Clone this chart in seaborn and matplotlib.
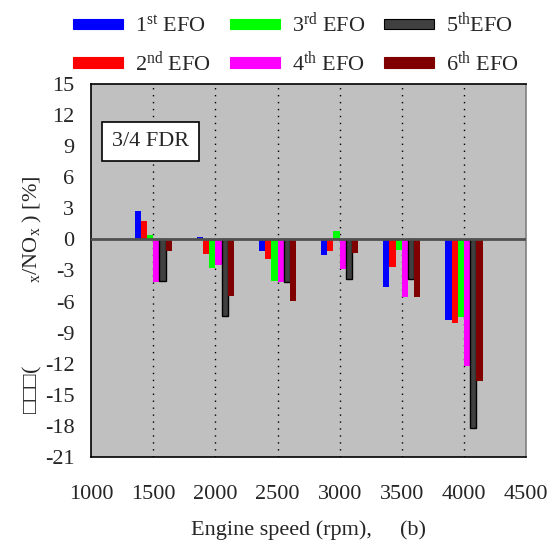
import matplotlib
matplotlib.use("Agg")
import matplotlib.pyplot as plt
import seaborn as sns
import pandas as pd
import numpy as np
from matplotlib.patches import Patch

speeds = [1500, 2000, 2500, 3000, 3500, 4000]
series = ["1st", "2nd", "3rd", "4th", "5th", "6th"]
efo1 = [2.7, 0.25, -1.1, -1.5, -4.6, -7.8]
efo2 = [1.8, -1.45, -1.9, -1.1, -2.7, -8.1]
efo3 = [0.4, -2.8, -4.0, 0.8, -1.0, -7.45]
efo4 = [-4.1, -2.5, -4.15, -2.85, -5.6, -12.2]
efo5 = [-4.05, -7.4, -4.1, -3.8, -3.8, -18.2]
efo6 = [-1.1, -5.5, -5.9, -1.35, -5.6, -13.7]
legend_labels = ["1$^{\\mathrm{st}}$ EFO", "2$^{\\mathrm{nd}}$ EFO", "3$^{\\mathrm{rd}}$ EFO",
                 "4$^{\\mathrm{th}}$ EFO", "5$^{\\mathrm{th}}$EFO", "6$^{\\mathrm{th}}$ EFO"]
colors = ["#0000FF", "#FF0000", "#00FF00", "#FF00FF", "#404040", "#800000"]
yticks = list(range(-21, 16, 3))
xticks = [1000, 1500, 2000, 2500, 3000, 3500, 4000, 4500]

rows = []
for s, vals in zip(series, [efo1, efo2, efo3, efo4, efo5, efo6]):
    for sp, v in zip(speeds, vals):
        rows.append({"speed": sp, "series": s, "value": v})
df = pd.DataFrame(rows)

sns.set_style("white")
plt.rcParams["font.family"] = ["Liberation Serif", "DejaVu Serif"]
plt.rcParams["mathtext.fontset"] = "custom"
plt.rcParams["mathtext.rm"] = "Liberation Serif"
plt.rcParams["mathtext.it"] = "Liberation Serif:italic"

fig = plt.figure(figsize=(5.55, 5.51), dpi=100)
ax = fig.add_axes([0.164, 0.1706, 0.784, 0.677])
ax.set_facecolor("#C0C0C0")

sns.barplot(data=df, x="speed", y="value", hue="series", native_scale=True,
            palette=colors, width=0.6, dodge=True, ax=ax, legend=False,
            errorbar=None, saturation=1, zorder=3)

for patch in ax.patches:
    fc = patch.get_facecolor()
    if abs(fc[0] - 0x40/255) < 0.02 and abs(fc[1] - 0x40/255) < 0.02:
        patch.set_edgecolor("black")
        patch.set_linewidth(1.0)
    else:
        patch.set_linewidth(0)

ax.set_xlim(1000, 4500)
ax.set_ylim(-21, 15)
ax.set_xticks(xticks)
ax.set_xticklabels([str(t) for t in xticks])
ax.set_yticks(yticks)
ax.set_yticklabels([str(t) for t in yticks])
ax.tick_params(axis="both", labelsize=16, direction="out", length=5, width=1, color="#333333")
ax.tick_params(axis="x", pad=15)
ax.tick_params(axis="y", pad=7)
for t in [1500, 2000, 2500, 3000, 3500, 4000]:
    ax.axvline(t, color="black", linestyle=(0, (1, 4)), linewidth=1, zorder=1)
ax.axhline(0, color="#505050", linewidth=2, zorder=4)

for side in ["left", "bottom", "top"]:
    ax.spines[side].set_color("black")
    ax.spines[side].set_linewidth(1.2)
ax.spines["right"].set_color("#808080")
ax.spines["right"].set_linewidth(1.2)

ax.set_xlabel("Engine speed (rpm),     (b)", fontsize=16, labelpad=12)
ax.set_ylabel("\u25a1\u25a1\u25a1(               $_{\\mathrm{x}}$/NO$_{\\mathrm{x}}$ ) [%]", fontsize=16,
              family=["Liberation Serif", "DejaVu Sans"])
ax.yaxis.set_label_coords(-0.107, 0.434)

ax.text(0.048, 0.845, "3/4 FDR", transform=ax.transAxes, fontsize=16, zorder=6,
        va="center", ha="left",
        bbox=dict(boxstyle="square,pad=0.45", facecolor="white", edgecolor="black", linewidth=1.2))

handles = [Patch(facecolor=c, edgecolor=("black" if c == "#404040" else c), linewidth=0.8)
           for c in colors]
fig.legend(handles, legend_labels, loc="upper center", bbox_to_anchor=(0.533, 1.015), ncol=3,
           frameon=False, fontsize=16, handlelength=2.25, handleheight=0.36,
           columnspacing=0.85, handletextpad=0.55, labelspacing=0.6)

fig.savefig("out.png", dpi=100)
